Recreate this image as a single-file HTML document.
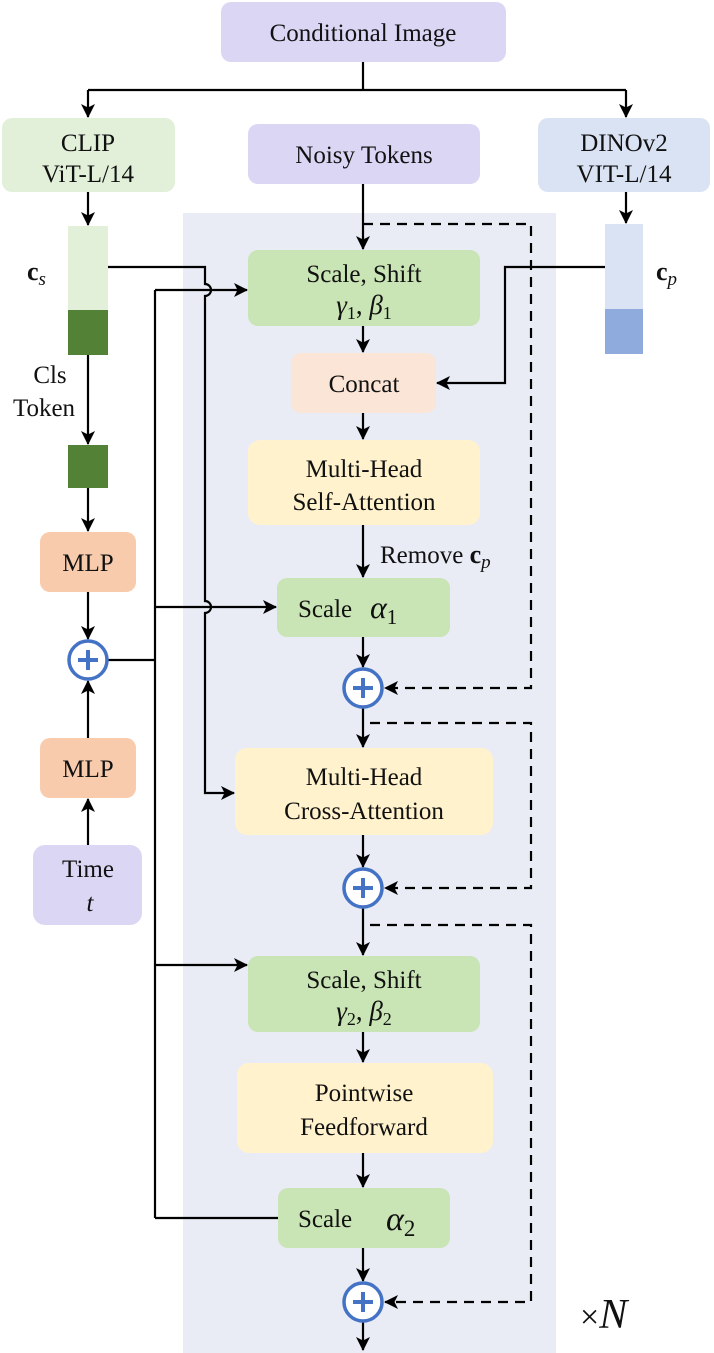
<!DOCTYPE html>
<html><head><meta charset="utf-8"><style>
html,body{margin:0;padding:0;background:#fff}
svg{display:block}
text{font-family:"Liberation Serif","Times New Roman",Times,"DejaVu Serif",serif;font-size:25px;fill:#111}
.i{font-style:italic}
</style></head><body>
<svg width="714" height="1353" viewBox="0 0 714 1353">
<defs>
<marker id="a" viewBox="0 0 14 14" refX="13" refY="7" markerWidth="14" markerHeight="14" markerUnits="userSpaceOnUse" orient="auto">
<path d="M0,0 L14,7 L0,14 L3.5,7 Z" fill="#000"/></marker>
</defs>
<rect x="183" y="213" width="373" height="1140" fill="#e9ecf5"/>
<rect x="221" y="2" width="285" height="60" rx="10" fill="#dcd6f5"/>
<text x="363" y="41" text-anchor="middle">Conditional Image</text>
<rect x="2" y="118" width="173" height="74" rx="10" fill="#e2f0d9"/>
<text x="88" y="151" text-anchor="middle">CLIP</text>
<text x="88" y="182" text-anchor="middle">ViT-L/14</text>
<rect x="248" y="124" width="232" height="60" rx="10" fill="#dcd6f5"/>
<text x="364" y="163" text-anchor="middle">Noisy Tokens</text>
<rect x="538" y="118" width="172" height="74" rx="10" fill="#dae3f3"/>
<text x="624" y="151" text-anchor="middle">DINOv2</text>
<text x="624" y="182" text-anchor="middle">VIT-L/14</text>
<rect x="68" y="226" width="40" height="84" fill="#e2f0d9"/>
<rect x="68" y="310" width="40" height="45" fill="#538135"/>
<rect x="68" y="445" width="40" height="43" fill="#538135"/>
<rect x="605" y="224" width="38" height="85" fill="#dae3f3"/>
<rect x="605" y="309" width="38" height="45" fill="#8faadc"/>
<text x="27" y="280" font-weight="bold" style="font-size:26px">c<tspan class="i" style="font-size:19px;font-weight:normal" dy="5">s</tspan></text>
<text x="656" y="280" font-weight="bold" style="font-size:26px">c<tspan class="i" style="font-size:19px;font-weight:normal" dy="5">p</tspan></text>
<text x="50" y="383" text-anchor="middle">Cls</text>
<text x="44" y="416" text-anchor="middle">Token</text>
<rect x="40" y="532" width="96" height="60" rx="10" fill="#f8cbad"/>
<text x="88" y="571" text-anchor="middle">MLP</text>
<rect x="40" y="738" width="96" height="60" rx="10" fill="#f8cbad"/>
<text x="88" y="777" text-anchor="middle">MLP</text>
<rect x="33" y="845" width="109" height="80" rx="12" fill="#dcd6f5"/>
<text x="88" y="877" text-anchor="middle">Time</text>
<text x="90" y="911" text-anchor="middle" class="i">t</text>
<rect x="248" y="250" width="232" height="76" rx="10" fill="#c9e4b5"/>
<text x="364" y="282" text-anchor="middle">Scale, Shift</text>
<text x="364" y="314" text-anchor="middle" class="i" style="font-size:27px">γ<tspan style="font-size:18px;font-style:normal" dy="5">1</tspan><tspan dy="-5" style="font-style:normal">, </tspan>β<tspan style="font-size:18px;font-style:normal" dy="5">1</tspan></text>
<rect x="291" y="353" width="145" height="60" rx="10" fill="#fbe5d6"/>
<text x="364" y="392" text-anchor="middle">Concat</text>
<rect x="248" y="440" width="232" height="85" rx="12" fill="#fff2cc"/>
<text x="364" y="477" text-anchor="middle">Multi-Head</text>
<text x="364" y="510" text-anchor="middle">Self-Attention</text>
<text x="380" y="563">Remove <tspan font-weight="bold" style="font-size:26px">c</tspan><tspan class="i" style="font-size:19px" dy="5">p</tspan></text>
<rect x="277" y="578" width="173" height="59" rx="10" fill="#c9e4b5"/>
<text x="298" y="617">Scale</text>
<text x="370" y="618" class="i" style="font-size:32px">α<tspan style="font-size:21px;font-style:normal" dy="6">1</tspan></text>
<rect x="235" y="748" width="258" height="87" rx="12" fill="#fff2cc"/>
<text x="364" y="785" text-anchor="middle">Multi-Head</text>
<text x="364" y="819" text-anchor="middle">Cross-Attention</text>
<rect x="248" y="956" width="232" height="76" rx="10" fill="#c9e4b5"/>
<text x="364" y="988" text-anchor="middle">Scale, Shift</text>
<text x="364" y="1020" text-anchor="middle" class="i" style="font-size:27px">γ<tspan style="font-size:18px;font-style:normal" dy="5">2</tspan><tspan dy="-5" style="font-style:normal">, </tspan>β<tspan style="font-size:18px;font-style:normal" dy="5">2</tspan></text>
<rect x="237" y="1063" width="256" height="90" rx="12" fill="#fff2cc"/>
<text x="364" y="1101" text-anchor="middle">Pointwise</text>
<text x="364" y="1135" text-anchor="middle">Feedforward</text>
<rect x="278" y="1188" width="172" height="60" rx="10" fill="#c9e4b5"/>
<text x="298" y="1227">Scale</text>
<text x="386" y="1230" class="i" style="font-size:34px">α<tspan style="font-size:23px;font-style:normal" dy="6">2</tspan></text>
<text x="580" y="1328" style="font-size:34px">×<tspan class="i" style="font-size:42px">N</tspan></text>
<g stroke="#000" stroke-width="2.2" fill="none">
<path d="M363,62 V90"/>
<path d="M88,90 H626"/>
<path d="M88,90 V117" marker-end="url(#a)"/>
<path d="M626,90 V117" marker-end="url(#a)"/>
<path d="M88,192 V225" marker-end="url(#a)"/>
<path d="M626,192 V223" marker-end="url(#a)"/>
<path d="M363,184 V249" marker-end="url(#a)"/>
<path d="M88,355 V444" marker-end="url(#a)"/>
<path d="M88,488 V531" marker-end="url(#a)"/>
<path d="M88,592 V639" marker-end="url(#a)"/>
<path d="M88,738 V681" marker-end="url(#a)"/>
<path d="M88,845 V799" marker-end="url(#a)"/>
<path d="M108,660 H155"/>
<path d="M155,1218 V290"/>
<path d="M155,290 H247" marker-end="url(#a)"/>
<path d="M155,607 H276" marker-end="url(#a)"/>
<path d="M155,965 H247" marker-end="url(#a)"/>
<path d="M155,1218 H278"/>
<path d="M108,267 H205 V284 A6,6 0 0 1 205,296 V601 A6,6 0 0 1 205,613 V793 H234" marker-end="url(#a)"/>
<path d="M605,267 H505 V383 H437" marker-end="url(#a)"/>
<path d="M363,326 V352" marker-end="url(#a)"/>
<path d="M363,413 V439" marker-end="url(#a)"/>
<path d="M363,525 V577" marker-end="url(#a)"/>
<path d="M363,637 V667" marker-end="url(#a)"/>
<path d="M363,708 V747" marker-end="url(#a)"/>
<path d="M363,835 V867" marker-end="url(#a)"/>
<path d="M363,908 V955" marker-end="url(#a)"/>
<path d="M363,1032 V1062" marker-end="url(#a)"/>
<path d="M363,1153 V1187" marker-end="url(#a)"/>
<path d="M363,1248 V1281" marker-end="url(#a)"/>
<path d="M363,1322 V1350" marker-end="url(#a)"/>
</g>
<g stroke="#000" stroke-width="2.2" fill="none" stroke-dasharray="10,7">
<path d="M363,224 H531 V688 H385" marker-end="url(#a)"/>
<path d="M370,723 H531 V888 H385" marker-end="url(#a)"/>
<path d="M370,925 H531 V1302 H385" marker-end="url(#a)"/>
</g>
<g stroke="#4472c4" fill="#fff">
<circle cx="88" cy="660" r="19" stroke-width="3.5"/>
<circle cx="363" cy="688" r="19" stroke-width="3.5"/>
<circle cx="363" cy="888" r="19" stroke-width="3.5"/>
<circle cx="363" cy="1302" r="19" stroke-width="3.5"/>
</g>
<g stroke="#4472c4" stroke-width="4">
<path d="M78,660 H98 M88,650 V670"/>
<path d="M353,688 H373 M363,678 V698"/>
<path d="M353,888 H373 M363,878 V898"/>
<path d="M353,1302 H373 M363,1292 V1312"/>
</g>
</svg>
</body></html>
